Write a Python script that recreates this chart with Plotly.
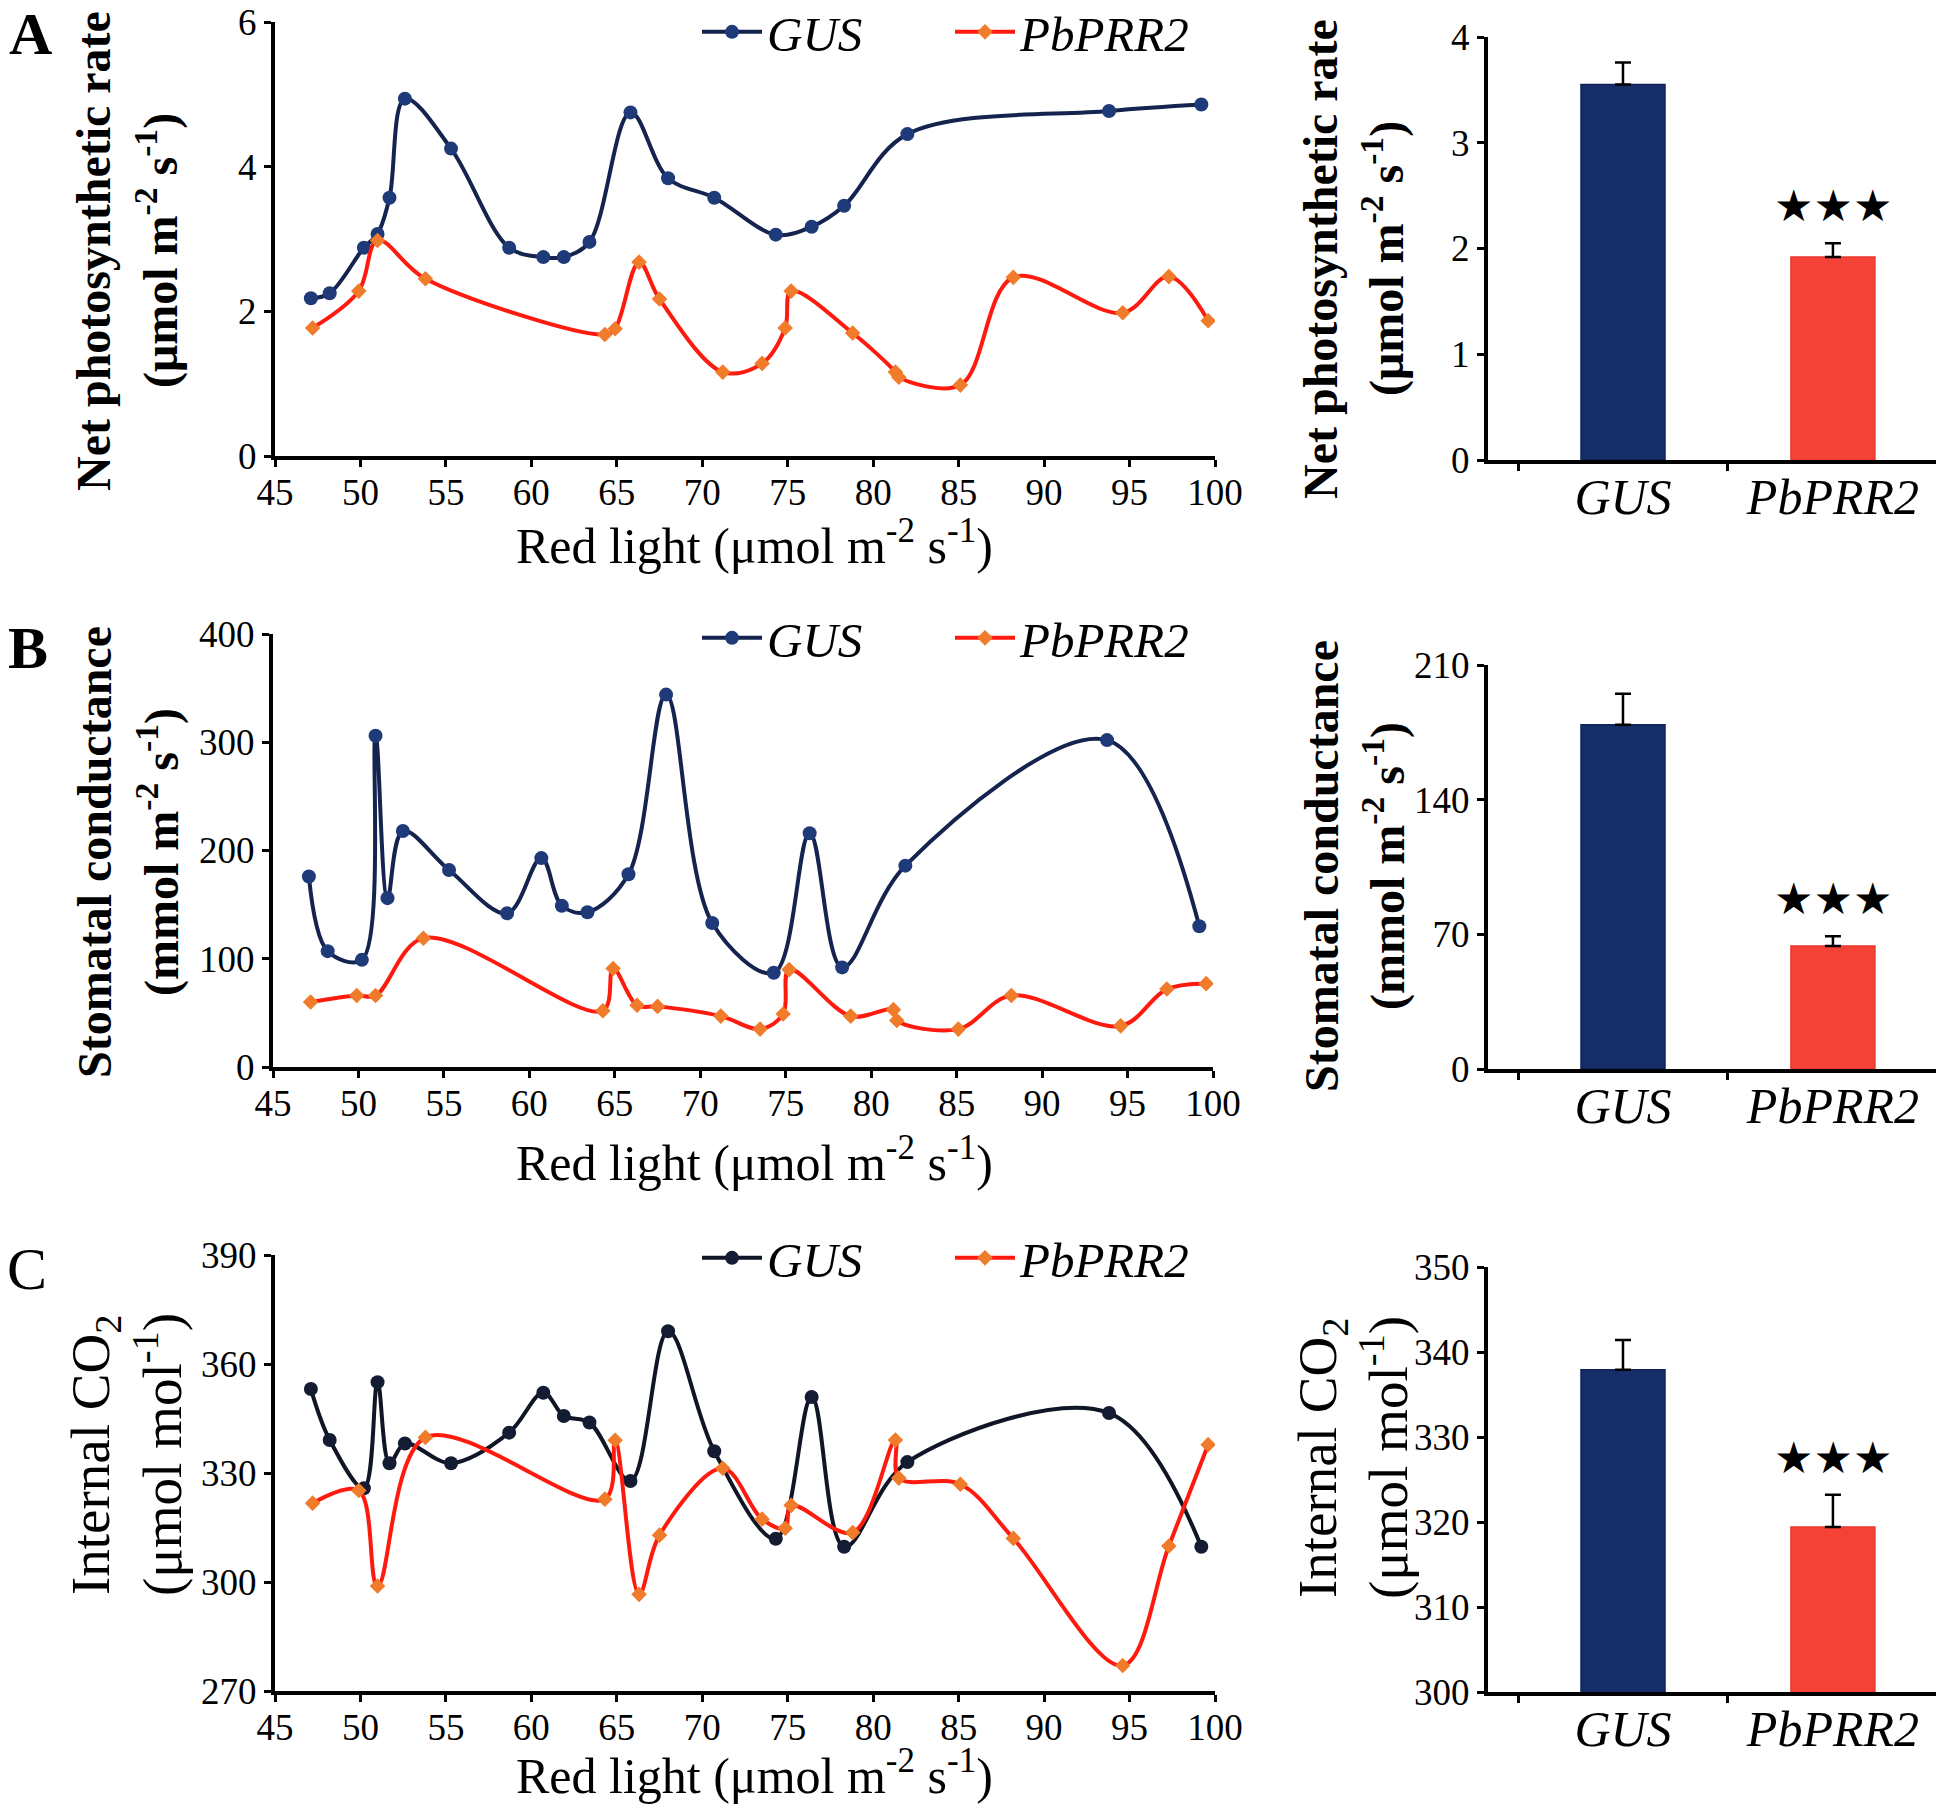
import plotly.graph_objects as go

# page body has an 8px margin: the figure is drawn 8px in from the top-left
OFF = 8
W, H = 1944 - OFF, 1807 - OFF
FONT = "Liberation Serif"

# ---------------- data ----------------
gus_x = [47.1, 48.2, 50.2, 51.0, 51.7, 52.6, 55.3, 58.7, 60.7, 61.9, 63.4, 65.8,
         68.0, 70.7, 74.3, 76.4, 78.3, 82.0, 93.8, 99.2]
prr_x = [47.2, 49.9, 51.0, 53.8, 64.3, 64.9, 66.3, 67.5, 71.2, 73.5, 74.85, 75.2,
         78.8, 81.3, 81.5, 85.1, 88.2, 94.6, 97.3, 99.6]

# A: net photosynthetic rate
gus_pn = [2.18, 2.25, 2.88, 3.07, 3.57, 4.94, 4.25, 2.88, 2.75, 2.75, 2.96, 4.75,
          3.84, 3.57, 3.06, 3.17, 3.46, 4.45, 4.77, 4.86]
prr_pn = [1.77, 2.28, 2.98, 2.45, 1.68, 1.76, 2.68, 2.17, 1.16, 1.28, 1.77, 2.28,
          1.70, 1.16, 1.09, 0.98, 2.47, 1.98, 2.48, 1.87]
# B: stomatal conductance
gus_gs = [176, 107, 99, 306, 156, 218, 182, 142, 193, 149, 143, 178,
          344, 133, 87, 216, 92, 186, 302, 130]
prr_gs = [60, 66, 66, 119, 52, 91, 57, 56, 47, 35, 49, 90,
          47, 53, 43, 35, 66, 38, 72, 77]
# C: internal CO2
gus_ci = [353.1, 339.1, 325.8, 355.0, 332.7, 338.1, 332.7, 341.1, 352.1, 345.7, 343.9, 327.8,
          369.0, 336.0, 311.9, 350.9, 309.7, 333.0, 346.5, 309.7]
prr_ci = [321.7, 325.2, 298.9, 339.8, 322.8, 339.0, 296.6, 312.9, 331.3, 317.3, 314.8, 321.1,
          313.6, 339.1, 328.6, 326.9, 312.0, 277.0, 309.9, 337.8]

bar_cats = ["GUS", "PbPRR2"]
bar_pn = [3.55, 1.92]
err_pn = [0.21, 0.13]
bar_gs = [179, 64]
err_gs = [16, 5]
bar_ci = [337.9, 319.4]
err_ci = [3.5, 3.8]

line_ranges = [[0, 6], [0, 400], [270, 390]]
line_dticks = [2, 100, 30]
bar_ranges = [[0, 4], [0, 210], [300, 350]]
bar_dticks = [1, 70, 10]

titles = [
    ("<b>Net photosynthetic rate</b>", "<b>(μmol m<sup>-2</sup> s<sup>-1</sup>)</b>"),
    ("<b>Stomatal conductance</b>", "<b>(mmol m<sup>-2</sup> s<sup>-1</sup>)</b>"),
    ("Internal CO<sub>2</sub>", "(μmol mol<sup>-1</sup>)"),
]
title_sizes = [48, 48, 55]
x_title = "Red light (μmol m<sup>-2</sup> s<sup>-1</sup>)"
panel_letters = ["<b>A</b>", "<b>B</b>", "C"]

# ---------------- layout geometry (page pixels) ----------------
line_px = [(275, 1215, 22, 456), (273, 1213, 634, 1067), (275, 1215, 1255, 1691)]
bar_px = [(1488, 1940, 37, 460), (1488, 1940, 665, 1069), (1488, 1940, 1267, 1692)]
title_cy = [251, 852, 1455]
bar_title_cy = [259, 866, 1458]
xtitle_cy = [542, 1159, 1772]
letter_pos = [(30, 34), (28, 648), (27, 1269)]
legend_y = [32, 638, 1258]

GUS_LINE = ["#15234f", "#15234f", "#101626"]
GUS_MARK = ["#1f3a78", "#1f3a78", "#141c33"]
RED_LINE = "#ff1a0f"
RED_MARK = "#f07b2a"

fig = go.Figure()
line_y = [(gus_pn, prr_pn), (gus_gs, prr_gs), (gus_ci, prr_ci)]
bar_y = [(bar_pn, err_pn), (bar_gs, err_gs), (bar_ci, err_ci)]


def fx(px):
    return (px - OFF) / W


def fy(py):
    return 1 - (py - OFF) / H


annotations = []
layout = {}
for i in range(3):
    lx = "x" if i == 0 else f"x{2*i+1}"
    ly = "y" if i == 0 else f"y{2*i+1}"
    bx = f"x{2*i+2}"
    by = f"y{2*i+2}"
    leg = "legend" if i == 0 else f"legend{i+1}"
    g, r = line_y[i]
    fig.add_trace(go.Scatter(
        x=gus_x, y=g, mode="lines+markers", name="<i>GUS</i>",
        line=dict(color=GUS_LINE[i], width=4, shape="spline", smoothing=1.0),
        marker=dict(symbol="circle", size=14, color=GUS_MARK[i]),
        xaxis=lx, yaxis=ly, legend=leg))
    fig.add_trace(go.Scatter(
        x=prr_x, y=r, mode="lines+markers", name="<i>PbPRR2</i>",
        line=dict(color=RED_LINE, width=4, shape="spline", smoothing=1.0),
        marker=dict(symbol="diamond", size=12, color=RED_MARK),
        xaxis=lx, yaxis=ly, legend=leg))
    vals, errs = bar_y[i]
    fig.add_trace(go.Bar(
        x=bar_cats, y=vals, width=0.4,
        marker=dict(color=["#152d69", "#f44336"],
                    line=dict(color=["#0f2256", "#e8392c"], width=1.5)),
        error_y=dict(type="data", array=errs, arrayminus=[0, 0], symmetric=False,
                     color="black", thickness=2.5, width=8),
        xaxis=bx, yaxis=by, showlegend=False))

    x0, x1, y0, y1 = line_px[i]
    tickfont = dict(family=FONT, size=37, color="black")
    axis_common = dict(showline=True, linecolor="black", linewidth=4, ticks="outside",
                       tickcolor="black", tickwidth=3, ticklen=7, showgrid=False,
                       zeroline=False, tickfont=tickfont, ticklabeloverflow="allow")
    layout["xaxis" if i == 0 else f"xaxis{2*i+1}"] = dict(
        domain=[fx(x0), fx(x1)], anchor=ly, range=[45, 100], dtick=5, tick0=45,
        ticklabelstandoff=-6, **axis_common)
    layout["yaxis" if i == 0 else f"yaxis{2*i+1}"] = dict(
        domain=[fy(y1), fy(y0)], anchor=lx, range=line_ranges[i],
        dtick=line_dticks[i], tick0=line_ranges[i][0], **axis_common)

    bx0, bx1, by0, by1 = bar_px[i]
    # bars: GUS center ~1623 px, PbPRR2 center ~1833 px
    layout[f"xaxis{2*i+2}"] = dict(
        domain=[fx(bx0), fx(bx1)], anchor=by, range=[-0.643, 1.51],
        type="category", tickson="boundaries", ticklabelstandoff=-10,
        showline=True, linecolor="black", linewidth=4, ticks="outside",
        tickcolor="black", tickwidth=3, ticklen=7, showgrid=False,
        tickfont=dict(family=FONT, size=50, color="black", style="italic"))
    layout[f"yaxis{2*i+2}"] = dict(
        domain=[fy(by1), fy(by0)], anchor=bx, range=bar_ranges[i],
        dtick=bar_dticks[i], tick0=bar_ranges[i][0], **axis_common)

    # x title
    annotations.append(dict(text=x_title, x=fx(754), y=fy(xtitle_cy[i]), xref="paper",
                            yref="paper", showarrow=False, xanchor="center",
                            yanchor="middle", font=dict(family=FONT, size=50, color="black")))
    # y titles
    t1, t2 = titles[i]
    ts = title_sizes[i]
    for txt, px in [(t1, 94), (t2, 158)]:
        annotations.append(dict(text=txt, x=fx(px), y=fy(title_cy[i]), xref="paper",
                                yref="paper", textangle=-90, showarrow=False,
                                xanchor="center", yanchor="middle",
                                font=dict(family=FONT, size=ts, color="black")))
    for txt, px in [(t1, 1321), (t2, 1384)]:
        annotations.append(dict(text=txt, x=fx(px), y=fy(bar_title_cy[i]), xref="paper",
                                yref="paper", textangle=-90, showarrow=False,
                                xanchor="center", yanchor="middle",
                                font=dict(family=FONT, size=ts, color="black")))
    # panel letter
    lxp, lyp = letter_pos[i]
    annotations.append(dict(text=panel_letters[i], x=fx(lxp), y=fy(lyp), xref="paper",
                            yref="paper", showarrow=False, xanchor="center",
                            yanchor="middle", font=dict(family=FONT, size=60, color="black")))
    # significance stars
    annotations.append(dict(text="★★★", x="PbPRR2", y=vals[1] + errs[1],
                            xref=bx, yref=by, showarrow=False, yanchor="bottom",
                            yshift=10, font=dict(family="DejaVu Sans", size=44, color="black")))

    layout[leg] = dict(orientation="h", x=fx(697), y=fy(legend_y[i]), xanchor="left",
                       yanchor="middle", bgcolor="rgba(0,0,0,0)",
                       entrywidth=178, entrywidthmode="pixels", itemwidth=60,
                       font=dict(family=FONT, size=49, color="black"))

fig.update_layout(
    width=W, height=H, margin=dict(l=0, r=0, t=0, b=0, autoexpand=False),
    paper_bgcolor="white", plot_bgcolor="white", showlegend=True,
    annotations=annotations, bargap=0.2, **layout)

fig.write_html("out.html")
